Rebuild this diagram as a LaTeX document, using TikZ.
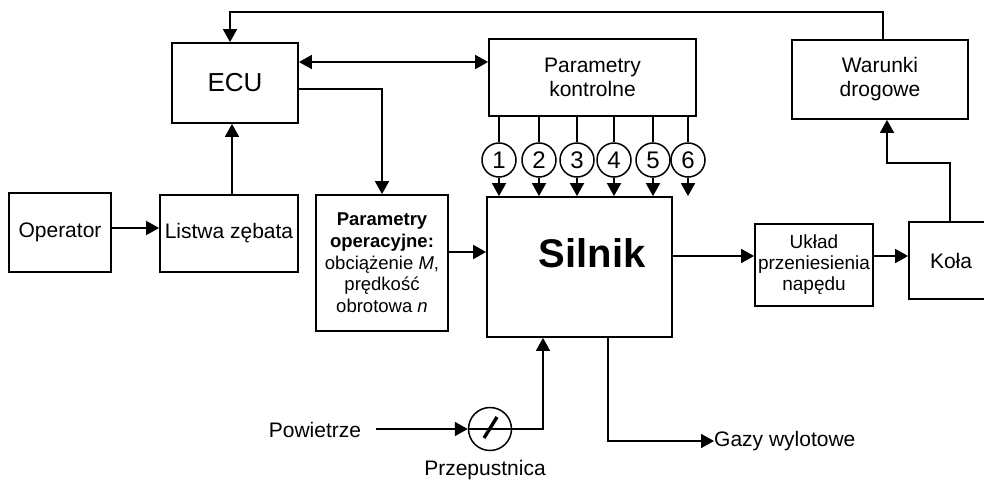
\documentclass[tikz,border=0pt]{standalone}
\usepackage{fontspec}
\setmainfont{Liberation Sans}
\usetikzlibrary{arrows.meta,calc}
\tikzset{
  ln/.style={line width=1.8pt},
  arr/.style={ln,-{Triangle[length=13pt,width=14pt]}},
  arr2/.style={ln,{Triangle[length=13pt,width=14pt]}-{Triangle[length=13pt,width=14pt]}},
  box/.style={draw,line width=1.8pt,inner sep=0pt,align=center,font=\fontsize{21pt}{24pt}\selectfont},
  numc/.style={draw,circle,line width=1.5pt,minimum size=34pt,inner sep=0pt,font=\fontsize{24pt}{24pt}\selectfont},
  lbl/.style={inner sep=0pt,font=\fontsize{21pt}{24pt}\selectfont}
}
\begin{document}
\begin{tikzpicture}[x=1pt,y=-1pt]
\useasboundingbox (0,0) rectangle (984,480);
\clip (0,0) rectangle (984,480);
% boxes
\node[box,minimum width=126pt,minimum height=80pt,font=\fontsize{26pt}{28pt}\selectfont] (ecu) at (235,83) {ECU};
\node[box,minimum width=207pt,minimum height=77pt] (pk) at (592.5,77.5) {Parametry\\kontrolne};
\node[box,minimum width=176pt,minimum height=79pt] (war) at (880,79.5) {Warunki\\drogowe};
\node[box,minimum width=102pt,minimum height=79pt] (op) at (60,232.5) {Operator};
\node[box,minimum width=138pt,minimum height=77pt] (lz) at (229,233.5) {Listwa zębata};
\node[box,minimum width=132pt,minimum height=136pt,font=\fontsize{18.5pt}{21.7pt}\selectfont] (po) at (382,263)
  {\textbf{Parametry}\\\textbf{operacyjne:}\\obciążenie \textit{M},\\prędkość\\obrotowa \textit{n}};
\node[draw,line width=1.8pt,minimum width=185pt,minimum height=140pt,inner sep=0pt] (sil) at (579.5,267) {};
\node[inner sep=0pt,font=\fontsize{40pt}{40pt}\selectfont\bfseries] (siltxt) at (592,253) {Silnik};
\node[box,minimum width=118pt,minimum height=82pt,font=\fontsize{19pt}{21pt}\selectfont] (uk) at (814,265) {Układ\\przeniesienia\\napędu};
\node[box,minimum width=84pt,minimum height=77pt] (kol) at (951,260.5) {Koła};
% numbered circles
\foreach \n/\x in {1/499,2/539,3/577,4/614,5/653,6/688}{
  \node[numc] (c\n) at (\x,160) {\n};
  \draw[ln] (pk.south -| c\n) -- (c\n.north);
  \draw[arr] (c\n.south) -- (sil.north -| c\n);
}
% connectors
\draw[arr] (war.north -| 883,0) |- (230,12) -- (ecu.north -| 230,0);
\draw[arr2] (ecu.east |- 0,62) -- (pk.west |- 0,62);
\draw[arr] (ecu.east |- 0,89) -| (po.north);
\draw[arr] (op.east |- 0,228) -- (lz.west |- 0,228);
\draw[arr] (lz.north -| 232,0) -- (ecu.south -| 232,0);
\draw[arr] (po.east |- 0,252) -- (sil.west |- 0,252);
\draw[arr] (sil.east |- 0,256) -- (uk.west |- 0,256);
\draw[arr] (uk.east |- 0,256) -- (kol.west |- 0,256);
\draw[arr] (kol.north -| 950,0) |- (887,163) -- (war.south -| 887,0);
% air intake and throttle
\node[lbl] (pow) at (315,430) {Powietrze};
\node[draw,circle,line width=1.5pt,minimum size=43pt,inner sep=0pt] (thr) at (490,429) {};
\node[lbl] (prz) at (485,470) {Przepustnica};
\draw[arr] ([xshift=15pt]pow.east |- thr.west) -- (thr.west);
\draw[arr] (thr.west) -- (543,429) -- (sil.south -| 543,0);
\draw[line width=3.4pt] (484,438) -- (497,417);
% exhaust
\node[lbl,anchor=west] (gaz) at (714,441) {Gazy wylotowe};
\draw[arr] (sil.south -| 608,0) |- (gaz.west);
\end{tikzpicture}
\end{document}
